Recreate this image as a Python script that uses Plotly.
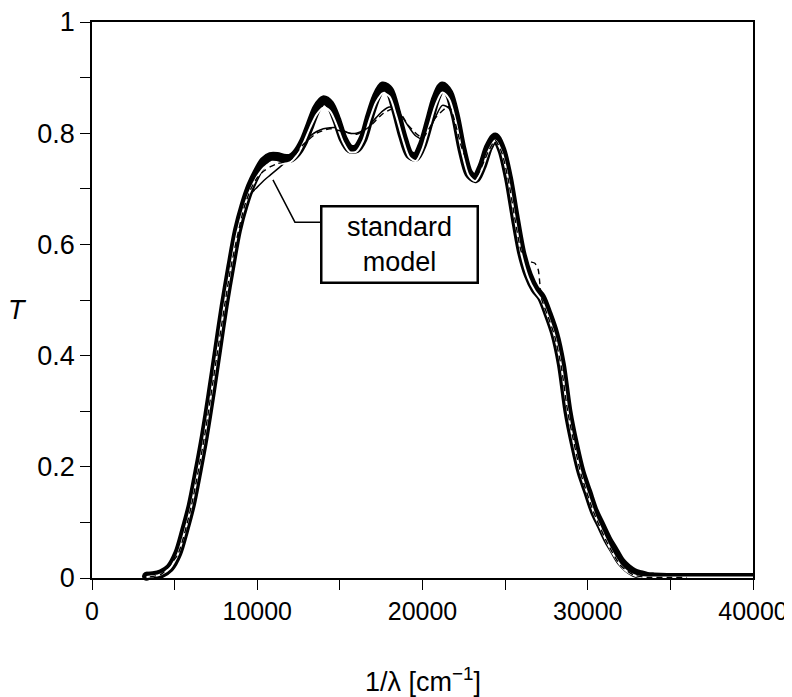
import plotly.graph_objects as go

# wavenumber grid shared by the measured curve and model A (cm^-1)
meas_x = [3300, 3700, 4200, 4700, 5200, 5600, 6000, 6400, 6800, 7200,
          7600, 8000, 8400, 8800, 9200, 9600, 10000, 10400, 10800, 11200,
          11600, 12000, 12400, 12800, 13200, 13600, 14000, 14400, 14800, 15200,
          15600, 16000, 16400, 16800, 17200, 17600, 18000, 18400, 18800, 19200,
          19600, 20000, 20400, 20800, 21200, 21600, 22000, 22400, 22800, 23200,
          23600, 24000, 24400, 24800, 25200, 25600, 26000, 26400, 26800, 27200,
          27600, 28000, 28400, 28800, 29200, 29600, 30000, 30400, 30800, 31200,
          31600, 32000, 32400, 32800, 33200, 33600, 34000, 34800, 36000, 38000,
          40000, 40600]

# measured transmittance (thick black)
meas_T = [0.003, 0.004, 0.008, 0.018, 0.045, 0.085, 0.13, 0.19, 0.255, 0.33,
          0.41, 0.49, 0.56, 0.625, 0.67, 0.705, 0.73, 0.75, 0.758, 0.758,
          0.755, 0.755, 0.765, 0.785, 0.815, 0.845, 0.86, 0.852, 0.825, 0.79,
          0.772, 0.772, 0.79, 0.83, 0.865, 0.885, 0.877, 0.84, 0.795, 0.762,
          0.757, 0.78, 0.82, 0.862, 0.885, 0.872, 0.83, 0.77, 0.728, 0.718,
          0.74, 0.775, 0.793, 0.77, 0.72, 0.65, 0.585, 0.545, 0.52, 0.505,
          0.475, 0.44, 0.385, 0.30, 0.24, 0.19, 0.155, 0.12, 0.095, 0.07,
          0.05, 0.03, 0.018, 0.01, 0.006, 0.003, 0.002, 0.001, 0.001, 0.001,
          0.001, 0.001]

# model A (thin white line)
modelA_T = [0.002, 0.003, 0.007, 0.017, 0.043, 0.082, 0.128, 0.188, 0.253, 0.328,
            0.408, 0.488, 0.558, 0.622, 0.666, 0.699, 0.722, 0.738, 0.745, 0.746,
            0.745, 0.748, 0.76, 0.782, 0.81, 0.834, 0.846, 0.84, 0.815, 0.784,
            0.766, 0.767, 0.786, 0.824, 0.856, 0.872, 0.866, 0.832, 0.79, 0.757,
            0.75, 0.772, 0.812, 0.851, 0.873, 0.862, 0.822, 0.765, 0.724, 0.714,
            0.735, 0.768, 0.787, 0.765, 0.715, 0.645, 0.58, 0.54, 0.516, 0.5,
            0.47, 0.435, 0.38, 0.297, 0.236, 0.186, 0.15, 0.115, 0.088, 0.062,
            0.04, 0.022, 0.011, 0.005, 0.002, 0.001, 0.001, 0.001, 0.001, 0.001,
            0.001, 0.001]

# standard model (thin black)
std_x = [3500, 4200, 5200, 6000, 6800, 7600, 8400, 9200, 9600, 10000,
         10400, 10800, 11200, 11600, 12000, 12400, 12800, 13200, 13600, 14000,
         14400, 14800, 15200, 15600, 16000, 16400, 16800, 17200, 17600, 18000,
         18400, 18800, 19200, 19600, 20000, 20400, 20800, 21200, 21600, 22000,
         22400, 22800, 23200, 23600, 24000, 24400, 24800, 25200, 25600, 26000,
         26400, 26800, 27200, 27600, 28000, 28400, 28800, 29600, 30400, 31200,
         32000, 32800, 33600, 34800, 36000]
std_T = [0.002, 0.007, 0.043, 0.128, 0.253, 0.408, 0.556, 0.66, 0.69, 0.703,
         0.715, 0.725, 0.735, 0.745, 0.755, 0.77, 0.785, 0.795, 0.803, 0.808,
         0.81, 0.81, 0.805, 0.80, 0.80, 0.805, 0.815, 0.828, 0.84, 0.847,
         0.843, 0.828, 0.81, 0.795, 0.79, 0.805, 0.83, 0.85, 0.845, 0.815,
         0.77, 0.735, 0.722, 0.74, 0.77, 0.785, 0.765, 0.715, 0.645, 0.58,
         0.54, 0.516, 0.5, 0.47, 0.435, 0.38, 0.297, 0.186, 0.115, 0.062,
         0.022, 0.005, 0.001, 0.001, 0.001]

# model B (thin dashed black)
modelB_x = [3500, 4200, 5200, 6000, 6800, 7600, 8400, 9200, 9600, 10000,
            10400, 10800, 11200, 11600, 12000, 12800, 13600, 14400, 15200, 16000,
            16800, 17600, 18400, 19200, 20000, 20800, 21600, 22400, 23200, 24000,
            24400, 24800, 25200, 25600, 26000, 26400, 26800, 27000, 27100, 27200,
            27600, 28000, 28400, 28800, 29600, 30400, 31200, 32000, 32800, 33600,
            34800, 36000]
modelB_T = [0.002, 0.007, 0.043, 0.128, 0.253, 0.408, 0.558, 0.666, 0.699, 0.72,
            0.732, 0.74, 0.745, 0.748, 0.752, 0.78, 0.80, 0.808, 0.803, 0.798,
            0.812, 0.835, 0.845, 0.812, 0.792, 0.828, 0.848, 0.772, 0.72, 0.768,
            0.787, 0.765, 0.715, 0.645, 0.585, 0.57, 0.566, 0.555, 0.53, 0.503,
            0.47, 0.435, 0.38, 0.297, 0.186, 0.115, 0.062, 0.022, 0.005, 0.001,
            0.001, 0.001]

x_ticks = [0, 10000, 20000, 30000, 40000]
x_labels = ['0', '10000', '20000', '30000', '40000']
x_minor = [5000, 15000, 25000, 35000]
y_ticks = [0, 0.2, 0.4, 0.6, 0.8, 1]
y_labels = ['0', '0.2', '0.4', '0.6', '0.8', '1']
y_minor = [0.1, 0.3, 0.5, 0.7, 0.9]

FONT = 'Liberation Sans, Arial, Helvetica, sans-serif'
FS = 27

fig = go.Figure()
fig.add_trace(go.Scatter(x=meas_x, y=meas_T, mode='lines',
                         line=dict(color='black', width=9, shape='spline', smoothing=0.8)))
# round start of the measured curve
fig.add_trace(go.Scatter(x=[meas_x[0]], y=[meas_T[0]], mode='markers',
                         marker=dict(color='black', size=9), cliponaxis=False))
fig.add_trace(go.Scatter(x=std_x, y=std_T, mode='lines',
                         line=dict(color='black', width=1.5, shape='spline', smoothing=0.8)))
fig.add_trace(go.Scatter(x=meas_x, y=modelA_T, mode='lines',
                         line=dict(color='white', width=2, shape='spline', smoothing=0.8)))
fig.add_trace(go.Scatter(x=modelB_x, y=modelB_T, mode='lines',
                         line=dict(color='black', width=1.4, dash='6px,4px', shape='spline', smoothing=0.6)))

# leader line from the label box to the standard model curve
fig.add_shape(type='path', xref='x', yref='y',
              path='M 10950,0.716 L 12280,0.640 L 13915,0.640',
              line=dict(color='black', width=1.5))

fig.add_annotation(x=18630, y=0.599, xref='x', yref='y', text='standard<br>model',
                   showarrow=False, font=dict(family=FONT, size=FS, color='black'),
                   bordercolor='black', borderwidth=2.5, borderpad=2, bgcolor='white',
                   width=150, height=70)

fig.add_annotation(x=-0.113, y=0.482, xref='paper', yref='paper', text='<i>T</i>',
                   showarrow=False, xanchor='center', yanchor='middle',
                   font=dict(family=FONT, size=FS, color='black'))
fig.add_annotation(x=0.5, y=-0.184, xref='paper', yref='paper',
                   text='1/λ [cm<sup>−1</sup>]', showarrow=False,
                   xanchor='center', yanchor='middle',
                   font=dict(family=FONT, size=FS, color='black'))

# page body has an 8px margin, so the figure is sized to end at the window edge
fig.update_layout(
    width=784, height=689,
    margin=dict(l=84, r=39, t=14, b=119, autoexpand=False),
    paper_bgcolor='white', plot_bgcolor='white',
    showlegend=False,
    font=dict(family=FONT, size=FS, color='black'),
)
fig.update_xaxes(range=[0, 40000], tickvals=x_ticks, ticktext=x_labels,
                 automargin=False, ticklabeloverflow='allow', tickfont=dict(size=25),
                 showgrid=False, zeroline=False, showline=True, mirror=True,
                 linecolor='black', linewidth=1.5,
                 ticks='outside', ticklen=10, tickwidth=1.2, tickcolor='black',
                 minor=dict(tickvals=x_minor, ticks='outside', ticklen=10, tickcolor='black'))
fig.update_yaxes(range=[0, 1], tickvals=y_ticks, ticktext=y_labels,
                 automargin=False, ticklabeloverflow='allow',
                 showgrid=False, zeroline=False, showline=True, mirror=True,
                 linecolor='black', linewidth=1.5,
                 ticks='outside', ticklen=10, tickwidth=1.2, tickcolor='black',
                 minor=dict(tickvals=y_minor, ticks='outside', ticklen=10, tickcolor='black'))

fig.write_html("out.html")
